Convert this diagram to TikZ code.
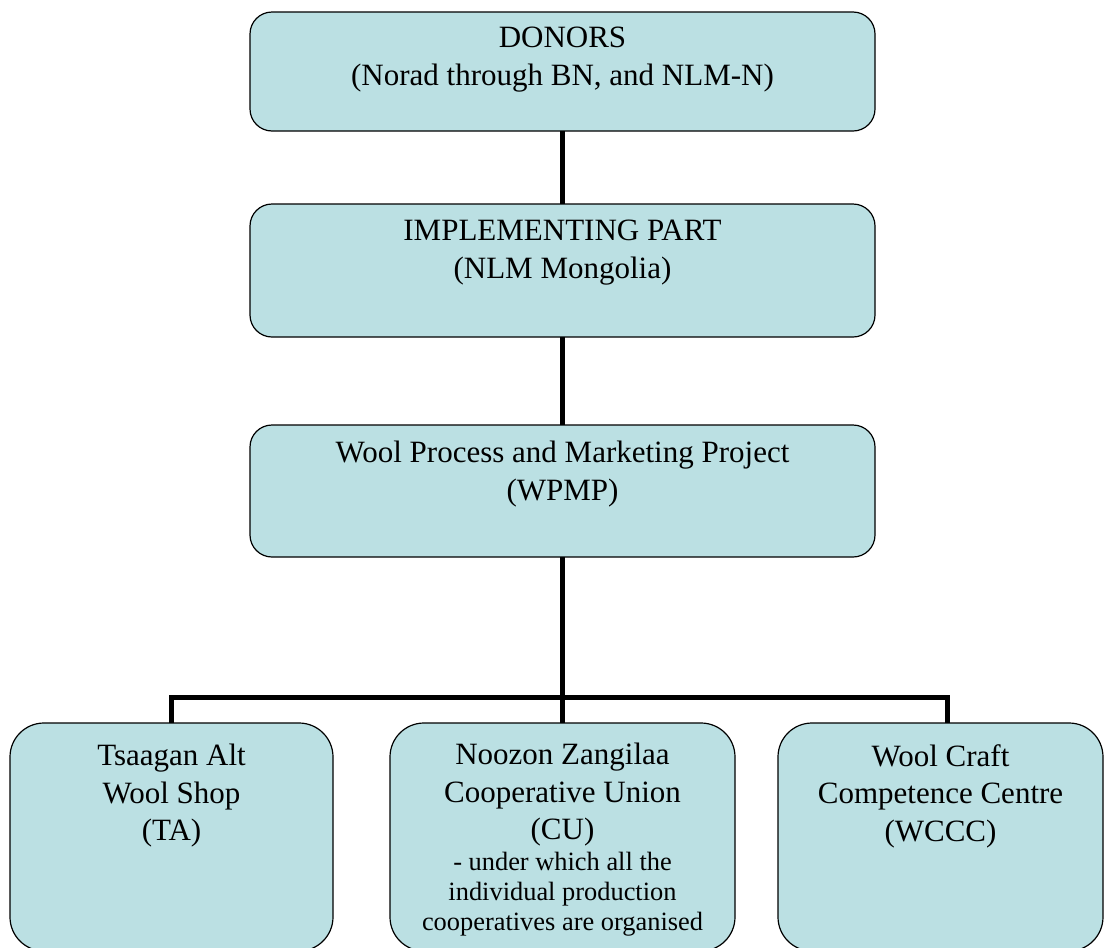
\documentclass[tikz,border=0pt]{standalone}
\usepackage{fontspec}
\setmainfont{Liberation Serif}
\definecolor{boxfill}{HTML}{BBE0E3}
\begin{document}
\begin{tikzpicture}[x=1pt,y=-1pt,
  box/.style={draw=black, line width=1.2pt, fill=boxfill, rounded corners=22pt, inner sep=0pt, outer sep=0pt},
  lowbox/.style={box, rounded corners=34pt},
  lbl/.style={anchor=north, align=center, inner sep=0pt, font=\fontsize{31}{37.5}\selectfont},
  smalllbl/.style={anchor=north, align=center, inner sep=0pt, font=\fontsize{26.4}{30}\selectfont},
  conn/.style={line width=5pt, line join=miter}]
\useasboundingbox (0,0) rectangle (1106,948);
\clip (0,0) rectangle (1106,948);
% boxes
\node[box, minimum width=625pt, minimum height=119pt] (donors) at (562.5,71.5) {};
\node[box, minimum width=625pt, minimum height=133pt] (impl) at (562.5,270.5) {};
\node[box, minimum width=625pt, minimum height=132pt] (wpmp) at (562.5,491) {};
\node[lowbox, minimum width=323pt, minimum height=228pt] (ta) at (171.5,837) {};
\node[lowbox, minimum width=345pt, minimum height=228pt] (cu) at (562.5,837) {};
\node[lowbox, minimum width=325pt, minimum height=228pt] (wccc) at (940.5,837) {};
% texts
\node[lbl] (tdonors) at (562.5,27) {DONORS\\(Norad through BN, and NLM-N)};
\node[lbl] (timpl) at (562.5,220) {IMPLEMENTING PART\\(NLM Mongolia)};
\node[lbl] (twpmp) at (562.5,441) {Wool Process and Marketing Project\\(WPMP)};
\node[lbl] (tta) at (171.5,744) {Tsaagan Alt\\Wool Shop\\(TA)};
\node[lbl] (tcu) at (562.5,743) {Noozon Zangilaa\\Cooperative Union\\(CU)};
\node[smalllbl] (tcusub) at (562.5,852) {- under which all the\\individual production\\cooperatives are organised};
\node[lbl] (twccc) at (940.5,744) {Wool Craft\\Competence Centre\\(WCCC)};
% connectors
\coordinate (bus) at (562.5,697);
\draw[conn] (donors.south) -- (impl.north);
\draw[conn] (impl.south) -- (wpmp.north);
\draw[conn] (wpmp.south) -- (bus);
\draw[conn] (bus) -- (cu.north);
\draw[conn] (ta.north) -- (ta.north |- bus) -- ([xshift=6.5pt]wccc.north |- bus) -- ([xshift=6.5pt]wccc.north);
\end{tikzpicture}
\end{document}
